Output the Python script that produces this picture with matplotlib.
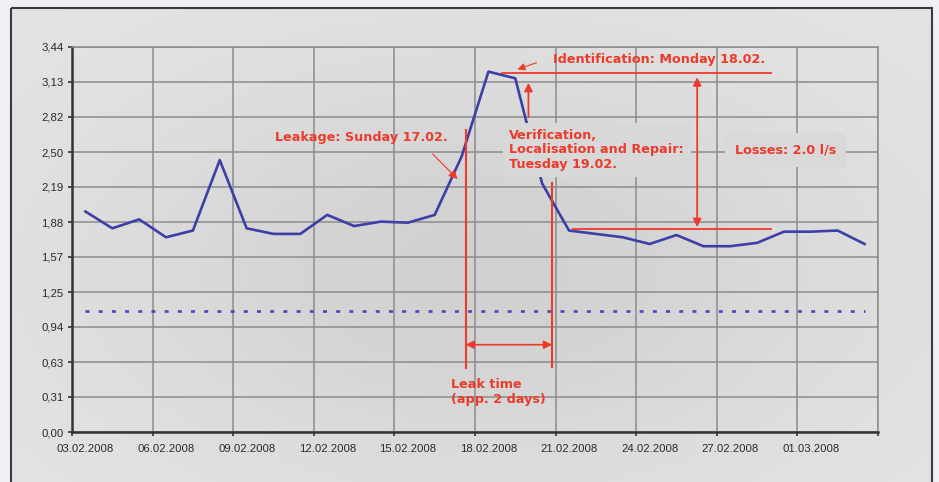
import matplotlib
matplotlib.use("Agg")
import matplotlib.pyplot as plt
import numpy as np
from matplotlib.patches import Rectangle

# daily flow values, 03.02.2008 - 03.03.2008
flow = [1.97, 1.82, 1.90, 1.74, 1.80, 2.43, 1.82, 1.77, 1.77, 1.94,
        1.84, 1.88, 1.87, 1.94, 2.46, 3.22, 3.16, 2.22, 1.80, 1.77,
        1.74, 1.68, 1.76, 1.66, 1.66, 1.69, 1.79, 1.79, 1.80, 1.68]
night_flow = 1.08
date_labels = ['03.02.2008', '06.02.2008', '09.02.2008', '12.02.2008', '15.02.2008',
               '18.02.2008', '21.02.2008', '24.02.2008', '27.02.2008', '01.03.2008']
y_labels = ['0,00', '0,31', '0,63', '0,94', '1,25', '1,57',
            '1,88', '2,19', '2,50', '2,82', '3,13', '3,44']

red = '#ec3a2b'
blue = '#3c3fa5'
W, H, dpi = 939, 482, 100

fig = plt.figure(figsize=(W / dpi, H / dpi), dpi=dpi)
fig.patch.set_facecolor('#eef0f3')

# grey gradient panel behind the chart
bg = fig.add_axes([0, 0, 1, 1], zorder=-10)
bg.set_axis_off()
yy, xx = np.mgrid[0:H, 0:W]
light = 0.895 - 0.075 * np.exp(-((xx - 480) / 380.0) ** 2 - ((yy - 270) / 210.0) ** 2)
img = np.dstack([light, light, light])
outside = (xx < 11) | (xx > 932) | (yy < 8)
img[outside] = np.array([0xee, 0xf0, 0xf3]) / 255
bg.imshow(img, extent=(0, W, H, 0), aspect='auto', interpolation='bilinear')
bg.add_patch(Rectangle((11, 8), 921, 480, fill=False, ec='#3a3a3a', lw=1.5))
bg.set_xlim(0, W)
bg.set_ylim(H, 0)

ax = fig.add_axes([72 / W, 1 - 432 / H, (878 - 72) / W, (432 - 47) / H])
ax.set_facecolor('none')
n = len(flow)
x = np.arange(n)

ax.set_xlim(-0.5, n - 0.5)
ax.set_ylim(0, 3.44)
yt = np.linspace(0, 3.44, len(y_labels))
ax.set_yticks(yt)
ax.set_yticklabels(y_labels)
ax.set_xticks(np.arange(-0.5, n, 3))
ax.set_xticklabels([])
ax.set_xticks(np.arange(0, n, 3), minor=True)
ax.set_xticklabels(date_labels, minor=True)
ax.tick_params(which='major', length=3, width=1.2, color='#333333', pad=3)
ax.tick_params(axis='x', which='minor', length=0, pad=8.5)
ax.tick_params(which='both', labelsize=8.2, labelcolor='#2a2a2a')
for lab in ax.get_xticklabels(minor=True) + ax.get_yticklabels():
    lab.set_family('Liberation Sans')

ax.set_axisbelow(True)
ax.grid(True, which='major', color='#8c8c8c', lw=1.1)
for s in ['top', 'right']:
    ax.spines[s].set_color('#8c8c8c')
    ax.spines[s].set_linewidth(1.1)
for s in ['left', 'bottom']:
    ax.spines[s].set_color('#333333')
    ax.spines[s].set_linewidth(1.8)

ax.plot(x, flow, color=blue, lw=1.9, zorder=2)
ax.plot([x[0], x[-1]], [night_flow, night_flow], color='#4b48b5', lw=1.9,
        linestyle=(0, (1.5, 3.5)), zorder=2)

font = dict(color=red, fontsize=9.2, fontweight='bold', family='DejaVu Sans')

# leak time
ax.plot([14.15, 14.15], [0.57, 2.70], color=red, lw=1.5, zorder=4)
ax.plot([17.37, 17.37], [0.58, 2.225], color=red, lw=1.5, zorder=4)
ax.annotate('', xy=(14.15, 0.78), xytext=(17.37, 0.78),
            arrowprops=dict(arrowstyle='<|-|>', color=red, lw=1.2, mutation_scale=12,
                            shrinkA=0, shrinkB=0), zorder=4)
ax.text(13.6, 0.48, 'Leak time\n(app. 2 days)', ha='left', va='top', linespacing=1.2, **font)

# leakage
ax.text(10.25, 2.63, 'Leakage: Sunday 17.02.', ha='center', va='center', **font)
ax.annotate('', xy=(13.85, 2.26), xytext=(12.92, 2.485),
            arrowprops=dict(arrowstyle='-|>', color=red, lw=0.8, mutation_scale=13,
                            shrinkA=0, shrinkB=0), zorder=4)

# identification
ax.text(21.36, 3.325, 'Identification: Monday 18.02.', ha='center', va='center', **font)
ax.plot([15.52, 25.52], [3.21, 3.21], color=red, lw=1.3, zorder=4)
ax.annotate('', xy=(16.08, 3.24), xytext=(16.79, 3.30),
            arrowprops=dict(arrowstyle='-|>', color=red, lw=0.8, mutation_scale=11,
                            shrinkA=0, shrinkB=0), zorder=4)
ax.annotate('', xy=(16.49, 3.12), xytext=(16.49, 2.815),
            arrowprops=dict(arrowstyle='-|>', color=red, lw=1.3, mutation_scale=12,
                            shrinkA=0, shrinkB=0), zorder=4)

# losses
ax.plot([18.13, 25.52], [1.814, 1.814], color=red, lw=1.3, zorder=4)
ax.annotate('', xy=(22.77, 3.17), xytext=(22.77, 1.83),
            arrowprops=dict(arrowstyle='<|-|>', color=red, lw=1.3, mutation_scale=12,
                            shrinkA=0, shrinkB=0), zorder=4)
ax.text(15.78, 2.52, 'Verification,\nLocalisation and Repair:\nTuesday 19.02.',
        ha='left', va='center', linespacing=1.15, zorder=5,
        bbox=dict(boxstyle='square,pad=0.5', fc='#d8d8d8', ec='none'), **font)
ax.text(26.06, 2.52, 'Losses: 2.0 l/s', ha='center', va='center', zorder=5,
        bbox=dict(boxstyle='square,pad=0.8', fc='#d9d9d9', ec='none'), **font)

fig.savefig('out.png', dpi=dpi, facecolor=fig.get_facecolor())
